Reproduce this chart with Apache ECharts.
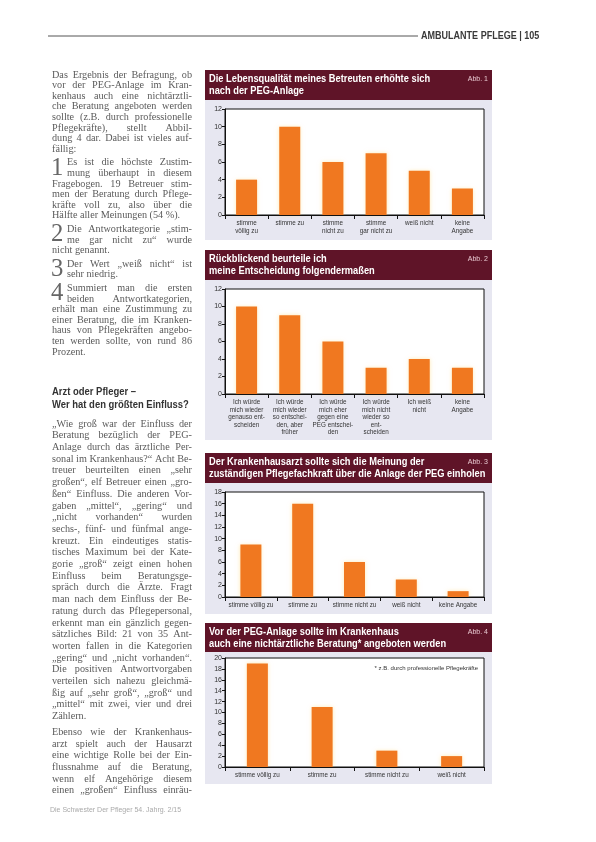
<!DOCTYPE html>
<html><head><meta charset="utf-8">
<script src="https://cdn.jsdelivr.net/npm/echarts@6/dist/echarts.min.js"></script>
<style>html,body{margin:0;padding:0;background:#fff}#c{width:596px;height:842px}</style>
</head><body><div id="c"></div>
<script>
// ---- chart data ----
const cats1 = ['stimme\nvöllig zu','stimme zu','stimme\nnicht zu','stimme\ngar nicht zu','weiß nicht','keine\nAngabe'];
const vals1 = [4,10,6,7,5,3];
const max1 = 12;

const cats2 = ['Ich würde\nmich wieder\ngenauso ent-\nscheiden','Ich würde\nmich wieder\nso entschei-\nden, aber\nfrüher','Ich würde\nmich eher\ngegen eine\nPEG entschei-\nden','Ich würde\nmich nicht\nwieder so\nent-\nscheiden','Ich weiß\nnicht','keine\nAngabe'];
const vals2 = [10,9,6,3,4,3];
const max2 = 12;

const cats3 = ['stimme völlig zu','stimme zu','stimme nicht zu','weiß nicht','keine Angabe'];
const vals3 = [9,16,6,3,1];
const max3 = 18;

const cats4 = ['stimme völlig zu','stimme zu','stimme nicht zu','weiß nicht'];
const vals4 = [19,11,3,2];
const max4 = 20;

const tickStep = 2;

const titles = [
  ['Die Lebensqualität meines Betreuten erhöhte sich','nach der PEG-Anlage'],
  ['Rückblickend beurteile ich','meine Entscheidung folgendermaßen'],
  ['Der Krankenhausarzt sollte sich die Meinung der','zuständigen Pflegefachkraft über die Anlage der PEG einholen'],
  ['Vor der PEG-Anlage sollte im Krankenhaus','auch eine nichtärztliche Beratung* angeboten werden']
];
const abbs = ['Abb. 1','Abb. 2','Abb. 3','Abb. 4'];
const footnote4 = '* z.B. durch professionelle Pflegekräfte';

const header = 'AMBULANTE PFLEGE | 105';
const footer = 'Die Schwester Der Pfleger 54. Jahrg. 2/15';

const intro = ['Das Ergebnis der Befragung, ob','vor der PEG-Anlage im Kran-','kenhaus auch eine nichtärztli-','che Beratung angeboten werden','sollte (z.B. durch professionelle','Pflegekräfte), stellt Abbil-','dung 4 dar. Dabei ist vieles auf-','fällig:'];
const items = [
  ['Es ist die höchste Zustim-','mung überhaupt in diesem','Fragebogen. 19 Betreuer stim-','men der Beratung durch Pflege-','kräfte voll zu, also über die','Hälfte aller Meinungen (54 %).'],
  ['Die Antwortkategorie „stim-','me gar nicht zu“ wurde','nicht genannt.'],
  ['Der Wert „weiß nicht“ ist','sehr niedrig.'],
  ['Summiert man die ersten','beiden Antwortkategorien,','erhält man eine Zustimmung zu','einer Beratung, die im Kranken-','haus von Pflegekräften angebo-','ten werden sollte, von rund 86','Prozent.']
];
const heading = ['Arzt oder Pfleger –','Wer hat den größten Einfluss?'];
const partB = ['„Wie groß war der Einfluss der','Beratung bezüglich der PEG-','Anlage durch das ärztliche Per-','sonal im Krankenhaus?“ Acht Be-','treuer beurteilten einen „sehr','großen“, elf Betreuer einen „gro-','ßen“ Einfluss. Die anderen Vor-','gaben „mittel“, „gering“ und','„nicht vorhanden“ wurden','sechs-, fünf- und fünfmal ange-','kreuzt. Ein eindeutiges statis-','tisches Maximum bei der Kate-','gorie „groß“ zeigt einen hohen','Einfluss beim Beratungsge-','spräch durch die Ärzte. Fragt','man nach dem Einfluss der Be-','ratung durch das Pflegepersonal,','erkennt man ein gänzlich gegen-','sätzliches Bild: 21 von 35 Ant-','worten fallen in die Kategorien','„gering“ und „nicht vorhanden“.','Die positiven Antwortvorgaben','verteilen sich nahezu gleichmä-','ßig auf „sehr groß“, „groß“ und','„mittel“ mit zwei, vier und drei','Zählern.'];
const partC = ['Ebenso wie der Krankenhaus-','arzt spielt auch der Hausarzt','eine wichtige Rolle bei der Ein-','flussnahme auf die Beratung,','wenn elf Angehörige diesem','einen „großen“ Einfluss einräu-'];

// ---- layout ----
const chart = echarts.init(document.getElementById('c'), null, {renderer:'canvas'});
const G = [];
const SERIF = '"Liberation Serif", "DejaVu Serif", serif';
const SANS = '"Liberation Sans", Arial, sans-serif';
const mctx = document.createElement('canvas').getContext('2d');
function measure(s, font) { mctx.font = font; return mctx.measureText(s).width; }
function txt(x, y, s, font, fill, align, sx, z) {
  G.push({type:'text', x:x, y:y, scaleX: sx || 1, z: z || 10,
    style:{text:s, font:font, fill:fill, textAlign: align||'left', align: align||'left', textVerticalAlign:'middle', verticalAlign:'middle'}});
}
function rect(x, y, w, h, fill, z) {
  G.push({type:'rect', z: z==null ? -1 : z, shape:{x:x, y:y, width:w, height:h}, style:{fill:fill}});
}

// header
G.push({type:'line', shape:{x1:48, y1:36, x2:418, y2:36}, style:{stroke:'#555', lineWidth:1}});
txt(421, 36, header, 'bold 11px ' + SANS, '#3a3a3a', 'left', 0.82);
// footer
txt(50, 810, footer, '7px ' + SANS, '#aaa', 'left', 1);

// body text, justified by word spacing
const bodyFont = '10.2px ' + SERIF;
const bodyCol = '#5a5a5a';
const X0 = 52, XR = 192;
const SP = measure(' ', bodyFont);
function bodyLine(x, y, s, last) {
  const words = s.split(' ');
  const ws = words.map(w => measure(w, bodyFont));
  const sum = ws.reduce((a, b) => a + b, 0);
  const avail = XR - x;
  const n = words.length;
  let sx = 1, gap = SP;
  if (sum + SP * (n - 1) > avail) {
    sx = avail / (sum + SP * (n - 1));
    gap = SP * sx;
  } else if (!last && n > 1) {
    gap = (avail - sum) / (n - 1);
  }
  let cx = x;
  words.forEach((w, i) => {
    txt(cx, y, w, bodyFont, bodyCol, 'left', sx);
    cx += ws[i] * sx + gap;
  });
}
let y = 75;
const LH = 10.6;
intro.forEach((l, i) => { bodyLine(X0, y, l, i === intro.length - 1); y += LH; });
items.forEach((it, k) => {
  y += 3;
  txt(X0 - 1, y + 5, String(k + 1), '26px ' + SERIF, '#666', 'left', 0.95);
  it.forEach((l, i) => { bodyLine(i < 2 ? X0 + 15 : X0, y, l, i === it.length - 1); y += LH; });
});
txt(X0, 392, heading[0], 'bold 10.5px ' + SANS, '#333', 'left', 0.9);
txt(X0, 405, heading[1], 'bold 10.5px ' + SANS, '#333', 'left', 0.9);
y = 424;
const LH2 = 11.7;
partB.forEach((l, i) => { bodyLine(X0, y, l, i === partB.length - 1); y += LH2; });
y += 4;
partC.forEach(l => { bodyLine(X0, y, l, false); y += LH2; });

// chart boxes
const boxes = [
  {ty:70, th:30, pb:240, grid:{top:109, height:106}},
  {ty:250, th:30, pb:440, grid:{top:289, height:105}},
  {ty:453, th:30, pb:614, grid:{top:492, height:105}},
  {ty:623, th:29, pb:784, grid:{top:658, height:109}}
];
const BX = 205, BW = 287;
boxes.forEach((b, i) => {
  rect(BX, b.ty, BW, b.th, '#5f1428', 1);
  rect(BX, b.ty + b.th, BW, b.pb - b.ty - b.th, '#e7e7f1', -1);
  txt(209, b.ty + 9, titles[i][0], 'bold 11px ' + SANS, '#fff', 'left', 0.845, 11);
  txt(209, b.ty + 21, titles[i][1], 'bold 11px ' + SANS, '#fff', 'left', 0.845, 11);
  txt(488, b.ty + 9, abbs[i], '7px ' + SANS, '#e8c8d0', 'right', 1, 11);
});
txt(478, 668, footnote4, '6px ' + SANS, '#333', 'right', 1, 11);

const cats = [cats1, cats2, cats3, cats4];
const vals = [vals1, vals2, vals3, vals4];
const maxs = [max1, max2, max3, max4];

const grids = boxes.map(b => ({left:225, width:259, top:b.grid.top, height:b.grid.height,
  show:true, backgroundColor:'#fff', borderColor:'#111', borderWidth:1, z:2}));
const xAxes = cats.map((c, i) => ({type:'category', gridIndex:i, data:c, boundaryGap:true,
  axisLine:{lineStyle:{color:'#111', width:1}},
  axisTick:{show:true, length:4, lineStyle:{color:'#111'}},
  axisLabel:{fontSize:6.3, color:'#333', fontFamily:'Liberation Sans', lineHeight:7.4, margin:5, interval:0},
  z:3}));
const yAxes = maxs.map((m, i) => ({type:'value', gridIndex:i, min:0, max:m, interval:tickStep,
  axisLine:{show:true, lineStyle:{color:'#111'}},
  axisTick:{show:true, length:3, lineStyle:{color:'#111'}},
  axisLabel:{fontSize:7, color:'#333', fontFamily:'Liberation Sans', margin:3},
  splitLine:{show:false}, z:3}));
const series = vals.map((v, i) => ({type:'bar', xAxisIndex:i, yAxisIndex:i, data:v, barWidth:21,
  itemStyle:{color:'#f07820', shadowColor:'rgba(255,215,120,0.55)', shadowBlur:4},
  silent:true, animation:false}));

chart.setOption({
  animation:false,
  backgroundColor:'#fff',
  grid:grids, xAxis:xAxes, yAxis:yAxes, series:series,
  graphic:{elements:G}
});
</script></body></html>
